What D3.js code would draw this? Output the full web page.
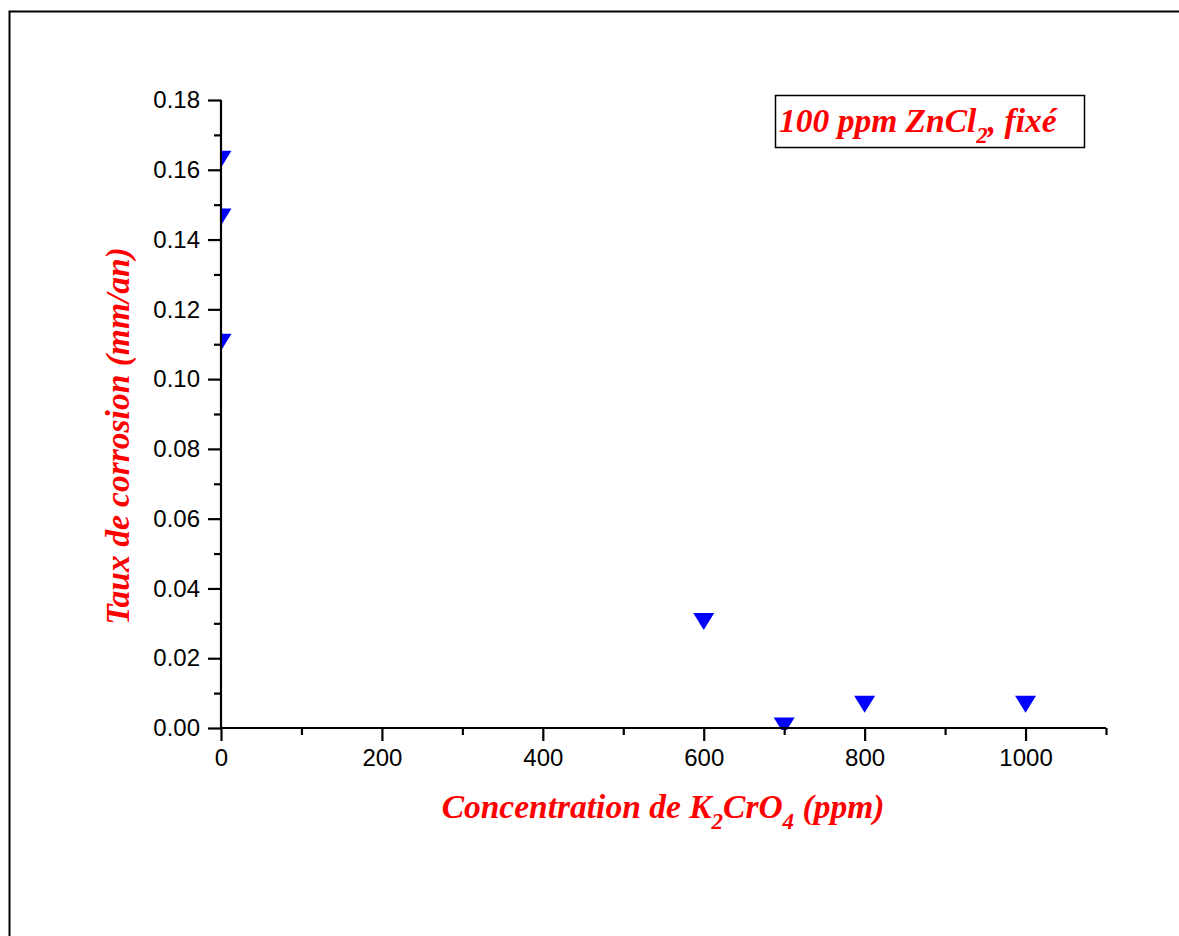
<!DOCTYPE html>
<html>
<head>
<meta charset="utf-8">
<script src="https://cdn.jsdelivr.net/npm/d3@7/dist/d3.min.js"></script>
<style>
  html, body { margin: 0; padding: 0; background: #fff; }
  svg { display: block; }
</style>
</head>
<body>
<svg id="chart" width="1179" height="936"></svg>
<script>
// ---- Data ----
const concentrations = [0, 0, 0, 600, 700, 800, 1000];      // K2CrO4 (ppm)
const corrosionRates = [0.163, 0.1465, 0.1106, 0.0305, 0.0006, 0.0068, 0.0068]; // mm/an
const xMajorTicks = [0, 200, 400, 600, 800, 1000];
const xMinorTicks = [100, 300, 500, 700, 900, 1100];
const yMajorTicks = [0, 0.02, 0.04, 0.06, 0.08, 0.10, 0.12, 0.14, 0.16, 0.18];
const yMinorTicks = [0.01, 0.03, 0.05, 0.07, 0.09, 0.11, 0.13, 0.15, 0.17];

(function () {
const svg = d3.select("#chart");
const W = 1179, H = 936;

// outer frame (extends beyond right/bottom of page)
svg.append("rect")
  .attr("x", 9.5).attr("y", 11.5)
  .attr("width", W + 20).attr("height", H + 20)
  .attr("fill", "none").attr("stroke", "#000").attr("stroke-width", 2);

const pLeft = 221, pRight = 1106, pTop = 100, pBottom = 728;
const x = d3.scaleLinear().domain([0, 1100]).range([pLeft, pRight]);
const y = d3.scaleLinear().domain([0, 0.18]).range([pBottom, pTop]);

const tickFont = "'Liberation Sans', Arial, sans-serif";

// clip for markers
svg.append("defs").append("clipPath").attr("id", "plotclip")
  .append("rect").attr("x", pLeft).attr("y", pTop - 20)
  .attr("width", pRight - pLeft + 20).attr("height", pBottom - pTop + 22);

// markers (down triangles)
const triW = 21, triH = 17;
const triPath = `M${-triW/2},${-triH/2} L${triW/2},${-triH/2} L0,${triH/2} Z`;
svg.append("g").attr("clip-path", "url(#plotclip)")
  .selectAll("path").data(concentrations.map((c, i) => [c, corrosionRates[i]]))
  .join("path")
  .attr("d", triPath)
  .attr("transform", d => `translate(${x(d[0])},${y(d[1])})`)
  .attr("fill", "#0000ff");

// Y axis
const gy = svg.append("g").attr("transform", `translate(${pLeft},0)`);
gy.call(d3.axisLeft(y).tickValues(yMajorTicks).tickSize(13).tickPadding(8)
  .tickFormat(d3.format(".2f")));
const gym = svg.append("g").attr("transform", `translate(${pLeft},0)`);
gym.call(d3.axisLeft(y).tickValues(yMinorTicks).tickSize(7).tickFormat(""));
gym.select(".domain").remove();

// X axis
const gx = svg.append("g").attr("transform", `translate(0,${pBottom})`);
gx.call(d3.axisBottom(x).tickValues(xMajorTicks).tickSize(13).tickPadding(8)
  .tickFormat(d3.format("d")));
const gxm = svg.append("g").attr("transform", `translate(0,${pBottom})`);
gxm.call(d3.axisBottom(x).tickValues(xMinorTicks).tickSize(7).tickFormat(""));
gxm.select(".domain").remove();

svg.selectAll(".domain").attr("stroke", "#000").attr("stroke-width", 2.2);
svg.selectAll(".tick line").attr("stroke", "#000").attr("stroke-width", 2.2);
svg.selectAll(".tick text").attr("font-family", tickFont).attr("font-size", 24).attr("fill", "#000");
gy.select(".domain").attr("d", `M0,${pTop}V${pBottom}`);
gx.select(".domain").attr("d", `M${pLeft},0H${pRight}`);

const titleFont = "'Liberation Serif', 'Times New Roman', serif";
const tSize = 33.5, sSize = 23;

// X axis title
const xt = svg.append("text")
  .attr("x", 663).attr("y", 818)
  .attr("text-anchor", "middle")
  .attr("font-family", titleFont).attr("font-style", "italic").attr("font-weight", "bold")
  .attr("font-size", tSize).attr("fill", "#ff0000");
xt.append("tspan").text("Concentration de K");
xt.append("tspan").attr("dy", 11).attr("font-size", sSize).text("2");
xt.append("tspan").attr("dy", -11).text("CrO");
xt.append("tspan").attr("dy", 11).attr("font-size", sSize).text("4");
xt.append("tspan").attr("dy", -11).text(" (ppm)");

// Y axis title
svg.append("text")
  .attr("transform", "translate(129,436) rotate(-90)")
  .attr("text-anchor", "middle")
  .attr("font-family", titleFont).attr("font-style", "italic").attr("font-weight", "bold")
  .attr("font-size", tSize).attr("fill", "#ff0000")
  .text("Taux de corrosion (mm/an)");

// Legend box
svg.append("rect")
  .attr("x", 775.5).attr("y", 95.5).attr("width", 309).attr("height", 52)
  .attr("fill", "#fff").attr("stroke", "#000").attr("stroke-width", 1.5);
const lt = svg.append("text")
  .attr("x", 779).attr("y", 132)
  .attr("font-family", titleFont).attr("font-style", "italic").attr("font-weight", "bold")
  .attr("font-size", tSize).attr("fill", "#ff0000");
lt.append("tspan").text("100 ppm ZnCl");
lt.append("tspan").attr("dy", 11).attr("font-size", sSize).text("2");
lt.append("tspan").attr("dy", -11).text(", fixé");
})();
</script>
</body>
</html>
